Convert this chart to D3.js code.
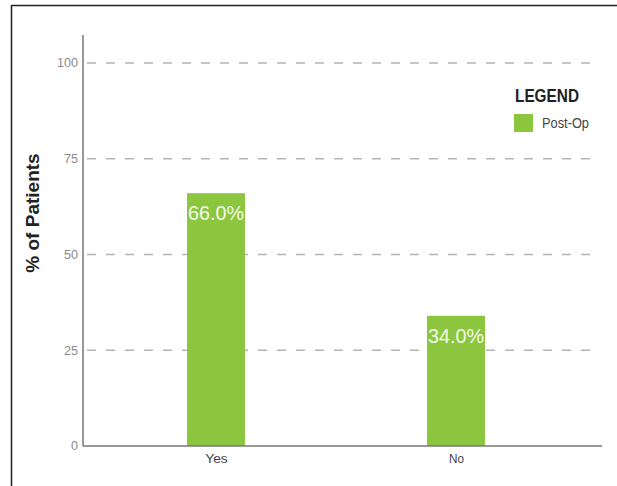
<!DOCTYPE html>
<html>
<head>
<meta charset="utf-8">
<script src="https://cdn.jsdelivr.net/npm/d3@7/dist/d3.min.js"></script>
<style>
  html, body { margin: 0; padding: 0; background: #fff; }
  svg { display: block; }
</style>
</head>
<body>
<svg id="chart" width="617" height="486"></svg>
<script>
// Share of patients answering Yes / No after the operation
const categories = ["Yes", "No"];
const postOpValues = [66.0, 34.0];
const yTicks = [0, 25, 50, 75, 100];
const seriesName = "Post-Op";

const svg = d3.select("#chart");
const green = "#8cc63e";
const font = "'Liberation Sans', Arial, sans-serif";

// squeeze a text element to a condensed width
function condense(sel, w) {
  sel.attr("textLength", w).attr("lengthAdjust", "spacingAndGlyphs");
}

// outer frame (top and left edges)
svg.append("line").attr("x1", 11.5).attr("x2", 617).attr("y1", 5.5).attr("y2", 5.5)
  .attr("stroke", "#222").attr("stroke-width", 1.5);
svg.append("line").attr("x1", 11.5).attr("x2", 11.5).attr("y1", 5).attr("y2", 486)
  .attr("stroke", "#222").attr("stroke-width", 1.5);

const plot = { left: 83, right: 602, top: 35, bottom: 446 };

const y = d3.scaleLinear().domain([0, 100]).range([plot.bottom, plot.bottom - 4 * 95.75]);
const x = d3.scalePoint().domain(categories).range([96, 576]).padding(0.5);
const barWidth = 58;

// dashed gridlines
svg.append("g").selectAll("line")
  .data(yTicks.filter(t => t > 0))
  .join("line")
  .attr("x1", plot.left + 4).attr("x2", plot.right - 2)
  .attr("y1", d => y(d)).attr("y2", d => y(d))
  .attr("stroke", "#b3b3b3").attr("stroke-width", 1.5)
  .attr("stroke-dasharray", "9,10");

const rows = categories.map((c, i) => ({ c, v: postOpValues[i] }));

// bars
svg.append("g").selectAll("rect")
  .data(rows)
  .join("rect")
  .attr("x", d => x(d.c) - barWidth / 2)
  .attr("width", barWidth)
  .attr("y", d => y(d.v))
  .attr("height", d => y(0) - y(d.v))
  .attr("fill", green);

// value labels inside bar tops
svg.append("g").selectAll("text")
  .data(rows)
  .join("text")
  .attr("x", d => x(d.c) - 28)
  .attr("y", d => y(d.v) + 27)
  .attr("fill", "#f4f9ec")
  .attr("font-family", font)
  .attr("font-size", 20)
  .text(d => d.v.toFixed(1) + "%")
  .call(condense, 56);

// y axis
const yAxis = svg.append("g")
  .attr("transform", `translate(${plot.left},0)`)
  .call(d3.axisLeft(y).tickValues(yTicks).tickSize(0).tickPadding(5).tickFormat(d3.format("d")));
yAxis.select(".domain").remove();
yAxis.selectAll("text").attr("fill", "#8a8a8a").attr("font-size", 12).attr("font-family", font)
  .each(function (d) { d3.select(this).call(condense, String(d).length * 7); });
svg.append("line").attr("x1", plot.left).attr("x2", plot.left)
  .attr("y1", plot.top).attr("y2", plot.bottom)
  .attr("stroke", "#777").attr("stroke-width", 1.5);

// x axis
const xAxis = svg.append("g")
  .attr("transform", `translate(0,${plot.bottom})`)
  .call(d3.axisBottom(x).tickSize(0).tickPadding(8));
xAxis.select(".domain").remove();
xAxis.selectAll("text").attr("fill", "#444").attr("font-size", 13).attr("font-family", font)
  .each(function (d) { d3.select(this).call(condense, d.length * 7.5); });
svg.append("line").attr("x1", plot.left).attr("x2", plot.right)
  .attr("y1", plot.bottom).attr("y2", plot.bottom)
  .attr("stroke", "#777").attr("stroke-width", 1.5);

// y axis title
svg.append("text")
  .attr("transform", "translate(39,213) rotate(-90)")
  .attr("text-anchor", "middle")
  .attr("fill", "#222")
  .attr("font-family", font)
  .attr("font-weight", "bold")
  .attr("font-size", 19)
  .text("% of Patients");

// legend
const legend = svg.append("g").attr("transform", "translate(515,0)");
legend.append("text").attr("x", 0).attr("y", 102)
  .attr("fill", "#222").attr("font-family", font).attr("font-weight", "bold")
  .attr("font-size", 19).text("LEGEND").call(condense, 64);
legend.append("rect").attr("x", -1).attr("y", 114).attr("width", 19).attr("height", 18)
  .attr("fill", green);
legend.append("text").attr("x", 27).attr("y", 128)
  .attr("fill", "#444").attr("font-family", font).attr("font-size", 14)
  .text(seriesName).call(condense, 47);
</script>
</body>
</html>
